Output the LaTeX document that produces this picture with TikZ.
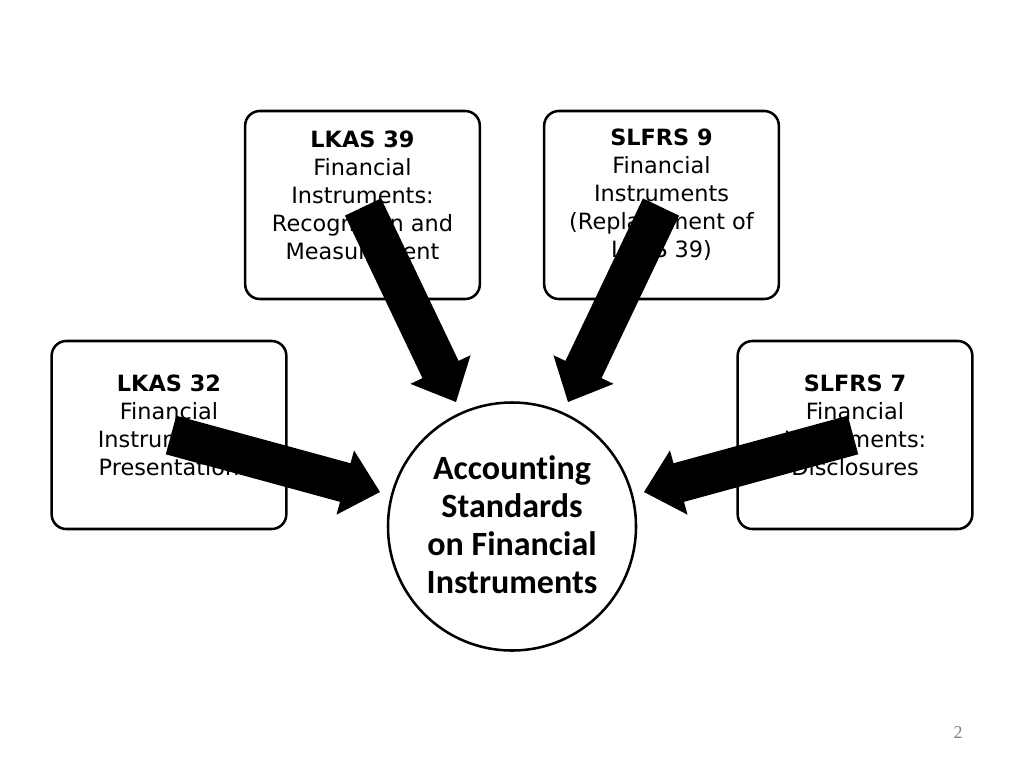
\documentclass[tikz,border=0pt]{standalone}
\usepackage{fontspec}
\setmainfont{DejaVu Sans}
\newfontfamily\carlito[Ligatures=NoCommon]{Carlito}
\newfontfamily\lserif{Liberation Serif}
\usetikzlibrary{calc}
\tikzset{
  stdbox/.style={draw=black, line width=1.9pt, rounded corners=11pt,
    minimum width=176pt, minimum height=141pt, fill=white, inner sep=0pt},
  boxtext/.style={align=center, font=\fontsize{16.8pt}{21pt}\selectfont, inner sep=0pt},
  hub/.style={circle, draw=black, line width=1.9pt, minimum size=186pt,
    inner sep=0pt, fill=white},
  hubtext/.style={align=center, font=\carlito\bfseries\fontsize{25.5pt}{28.4pt}\selectfont,
    inner sep=0pt},
  blockarrow/.style={fill=black},
  pagenum/.style={font=\lserif\fontsize{13.5pt}{16pt}\selectfont, text=black!50},
}
\newcommand\blockarr[2]{%
  \coordinate (#1b) at ($(#2)!27pt!(#1)$);
  \fill[blockarrow] ($(#1)!15pt!90:(#2)$) -- ($(#1b)!15pt!90:(#2)$)
    -- ($(#1b)!25pt!90:(#2)$) -- (#2) -- ($(#1b)!25pt!-90:(#2)$)
    -- ($(#1b)!15pt!-90:(#2)$) -- ($(#1)!15pt!-90:(#2)$) -- cycle;
}
\begin{document}
\begin{tikzpicture}[x=0.75pt, y=-0.75pt]
\useasboundingbox[fill=white] (0,0) rectangle (1024,768);

\node[stdbox] (b39) at (362.5,205) {};
\node[stdbox] (b9)  at (661.5,205) {};
\node[stdbox] (b32) at (169,435) {};
\node[stdbox] (b7)  at (855,435) {};

\node[boxtext, yshift=7.5pt] (t39) at (b39.center) {\textbf{LKAS 39}\\Financial\\Instruments:\\Recognition and\\Measurement};
\node[boxtext, yshift=7.5pt] (t9) at (b9.center) {\textbf{SLFRS 9}\\Financial\\Instruments\\(Replacement of\\LKAS 39)};
\node[boxtext, yshift=7.5pt] (t32) at (b32.center) {\textbf{LKAS 32}\\Financial\\Instruments:\\Presentation};
\node[boxtext, yshift=7.5pt] (t7) at (b7.center) {\textbf{SLFRS 7}\\Financial\\Instruments:\\Disclosures};

\node[hub] (hub) at (512,526.5) {};
\node[hubtext, yshift=1.5pt] (hubt) at (hub.center) {Accounting\\Standards\\on Financial\\Instruments};

\coordinate (a1) at (363,207); \coordinate (h1) at (456,402);
\coordinate (a2) at (661,207); \coordinate (h2) at (568,402);
\coordinate (a3) at (171,435); \coordinate (h3) at (380,492);
\coordinate (a4) at (853,435); \coordinate (h4) at (644,492);
\blockarr{a1}{h1}
\blockarr{a2}{h2}
\blockarr{a3}{h3}
\blockarr{a4}{h4}

\node[pagenum] (pg) at (958,733) {2};
\end{tikzpicture}
\end{document}
